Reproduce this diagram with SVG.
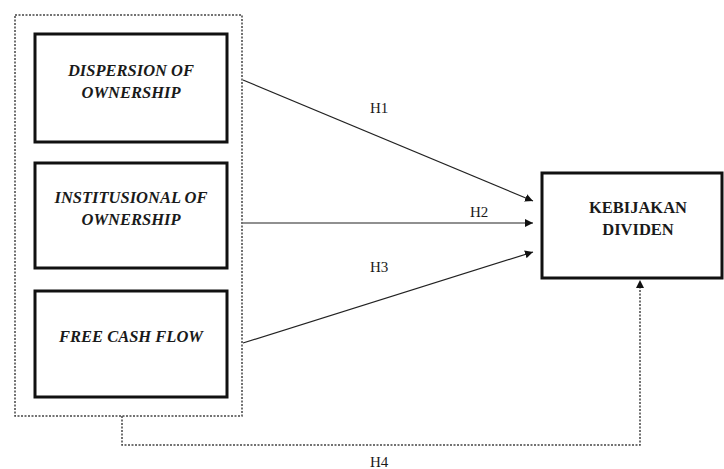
<svg xmlns="http://www.w3.org/2000/svg" width="724" height="469" viewBox="0 0 724 469">
<style>
.box{fill:#fff;stroke:#111;stroke-width:3}
.var{font-family:"Liberation Serif",serif;font-size:16.5px;font-weight:bold;font-style:italic;text-anchor:middle;fill:#1a1a1a}
.dep{font-family:"Liberation Serif",serif;font-size:16.5px;font-weight:bold;text-anchor:middle;fill:#1a1a1a}
.lbl{font-family:"Liberation Serif",serif;font-size:15px;fill:#1a1a1a}
.arr{stroke:#222;stroke-width:1.2;fill:none}
.dash{stroke:#444;stroke-width:1.5;stroke-dasharray:2 1.5;fill:none}
</style>
<defs>
<marker id="ah" viewBox="0 0 10 10" refX="10" refY="5" markerWidth="8" markerHeight="8" markerUnits="userSpaceOnUse" orient="auto">
<path d="M0,0 L10,5 L0,10 z" fill="#111"/>
</marker>
</defs>
<rect width="724" height="469" fill="#fff"/>
<g id="group">
<rect x="15" y="15" width="227" height="401" class="dash"/>
</g>
<g id="n1">
<rect class="box" x="35" y="34" width="192" height="108"/>
<text class="var" x="131" y="76">DISPERSION OF</text>
<text class="var" x="131" y="98">OWNERSHIP</text>
</g>
<g id="n2">
<rect class="box" x="35" y="163" width="192" height="105"/>
<text class="var" x="131" y="203">INSTITUSIONAL OF</text>
<text class="var" x="131" y="225">OWNERSHIP</text>
</g>
<g id="n3">
<rect class="box" x="35" y="291" width="192" height="106"/>
<text class="var" x="131" y="342">FREE CASH FLOW</text>
</g>
<g id="n4">
<rect class="box" x="542" y="173" width="180" height="105"/>
<text class="dep" x="638" y="213">KEBIJAKAN</text>
<text class="dep" x="638" y="235">DIVIDEN</text>
</g>
<g id="connectors">
<line class="arr" x1="243" y1="80" x2="533" y2="201" marker-end="url(#ah)"/>
<line class="arr" x1="243" y1="223" x2="533" y2="223" marker-end="url(#ah)"/>
<line class="arr" x1="243" y1="343" x2="533" y2="252" marker-end="url(#ah)"/>
<polyline class="dash" points="122,416 122,445 640,445 640,286"/>
<path d="M636,288 L640,280 L644,288 z" fill="#111"/>
<text class="lbl" x="370" y="113">H1</text>
<text class="lbl" x="470" y="217">H2</text>
<text class="lbl" x="370" y="272">H3</text>
<text class="lbl" x="370" y="467">H4</text>
</g>
</svg>
